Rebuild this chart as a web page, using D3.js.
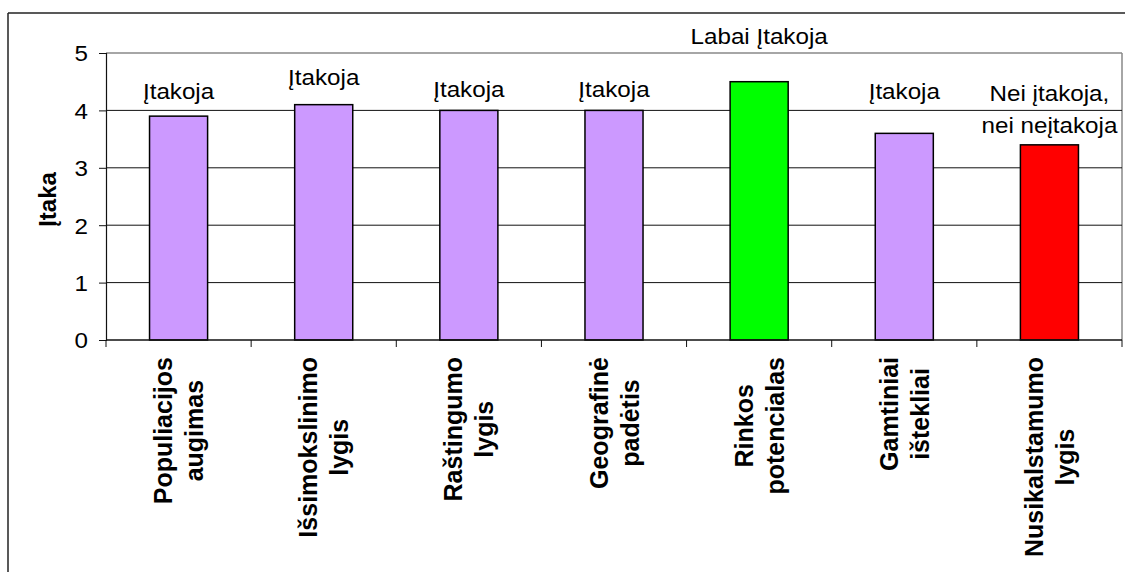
<!DOCTYPE html>
<html><head><meta charset="utf-8">
<script src="https://cdn.jsdelivr.net/npm/d3@7"></script>
<style>body{margin:0;background:#fff;} svg{display:block;}</style>
</head><body>
<svg id="c" width="1125" height="572"></svg>
<script>
// ---- data ----
const categories = [
  ["Populiacijos", "augimas"],
  ["Išsimokslinimo", "lygis"],
  ["Raštingumo", "lygis"],
  ["Geografinė", "padėtis"],
  ["Rinkos", "potencialas"],
  ["Gamtiniai", "ištekliai"],
  ["Nusikalstamumo", "lygis"]
];
const values = [3.9, 4.1, 4.0, 4.0, 4.5, 3.6, 3.4];
const valueLabels = [
  ["Įtakoja"], ["Įtakoja"], ["Įtakoja"], ["Įtakoja"],
  ["Labai Įtakoja"], ["Įtakoja"], ["Nei įtakoja,", "nei neįtakoja"]
];
const barColors = ["#cc99ff", "#cc99ff", "#cc99ff", "#cc99ff", "#00ff00", "#cc99ff", "#ff0000"];
const yTicks = [0, 1, 2, 3, 4, 5];
const yTitle = "Įtaka";

// ---- layout (not data) ----
const L = 106, R = 1122, T = 53, B = 340;
const labelBaseLevel = [4.2, 4.44, 4.23, 4.23, 5.16, 4.2, 3.6]; // baseline of last label line, in axis units
const SX = 1.1;

const svg = d3.select("#c");
const keys = categories.map(c => c.join(" "));
const x = d3.scaleBand().domain(keys).range([L, R]).paddingInner(0.6).paddingOuter(0.3);
const y = d3.scaleLinear().domain([0, 5]).range([B, T]);
const step = x.step();

// outer frame
svg.append("line").attr("x1", 8).attr("x2", 1125).attr("y1", 13).attr("y2", 13).attr("stroke", "#222").attr("stroke-width", 1.5);
svg.append("line").attr("x1", 8).attr("x2", 8).attr("y1", 13).attr("y2", 572).attr("stroke", "#222").attr("stroke-width", 1.5);

// plot border top/right (grey)
svg.append("line").attr("x1", L).attr("x2", R).attr("y1", y(5)).attr("y2", y(5)).attr("stroke", "#888").attr("stroke-width", 1.5);
svg.append("line").attr("x1", R).attr("x2", R).attr("y1", y(5)).attr("y2", B).attr("stroke", "#888").attr("stroke-width", 1.5);

// gridlines
svg.append("g").selectAll("line").data(yTicks.filter(t => t > 0 && t < 5)).join("line")
  .attr("x1", L).attr("x2", R).attr("y1", d => y(d)).attr("y2", d => y(d))
  .attr("stroke", "#111").attr("stroke-width", 1);

// y axis
const yAxis = svg.append("g").attr("transform", `translate(${L},0)`)
  .call(d3.axisLeft(y).tickValues(yTicks).tickSize(7).tickPadding(11).tickFormat(d3.format("d")));
yAxis.select(".domain").attr("stroke", "#111").attr("stroke-width", 1.2);
yAxis.selectAll(".tick line").attr("stroke", "#111");
yAxis.selectAll(".tick text").attr("font-family", "Liberation Sans, Arial, sans-serif")
  .attr("font-size", 22).attr("fill", "#000").attr("x", 0).attr("dy", "0.36em")
  .attr("transform", `translate(-18,0) scale(${SX},1)`);

// bars
svg.append("g").selectAll("rect").data(values).join("rect")
  .attr("x", (d, i) => x(keys[i])).attr("width", x.bandwidth())
  .attr("y", d => y(d)).attr("height", d => B - y(d))
  .attr("fill", (d, i) => barColors[i]).attr("stroke", "#000").attr("stroke-width", 1.5);

// x axis line and category ticks
svg.append("line").attr("x1", L).attr("x2", R).attr("y1", B).attr("y2", B).attr("stroke", "#111").attr("stroke-width", 1.5);
const bounds = d3.range(categories.length + 1).map(i => L + i * step);
svg.append("g").selectAll("line").data(bounds).join("line")
  .attr("x1", d => d).attr("x2", d => d).attr("y1", B).attr("y2", B + 7).attr("stroke", "#111").attr("stroke-width", 1);

// value labels
const lblLine = 32;
valueLabels.forEach((lines, i) => {
  const cx = x(keys[i]) + x.bandwidth() / 2;
  const base = y(labelBaseLevel[i]);
  lines.forEach((t, j) => {
    const by = base - (lines.length - 1 - j) * lblLine;
    svg.append("text").text(t)
      .attr("transform", `translate(${cx},${by}) scale(${SX},1)`)
      .attr("text-anchor", "middle")
      .attr("font-family", "Liberation Sans, Arial, sans-serif").attr("font-size", 22).attr("fill", "#000");
  });
});

// category labels (rotated)
const catFont = 25, catLine = 31, catTop = B + 17;
categories.forEach((lines, i) => {
  const cx = x(keys[i]) + x.bandwidth() / 2;
  const g = svg.append("g");
  const texts = lines.map(t => g.append("text").text(t)
    .attr("text-anchor", "middle")
    .attr("font-family", "Liberation Sans, Arial, sans-serif").attr("font-weight", "bold")
    .attr("font-size", catFont).attr("fill", "#000"));
  const maxLen = d3.max(texts, t => t.node().getComputedTextLength());
  g.attr("transform", `translate(${cx},${catTop}) rotate(-90)`);
  texts.forEach((t, j) => {
    t.attr("x", -maxLen / 2)
     .attr("y", (j - (lines.length - 1) / 2) * catLine + catFont * 0.36);
  });
});

// y title
svg.append("text").text(yTitle)
  .attr("transform", `translate(56,${(T + B) / 2 + 3}) rotate(-90)`)
  .attr("text-anchor", "middle")
  .attr("font-family", "Liberation Sans, Arial, sans-serif").attr("font-weight", "bold")
  .attr("font-size", 24).attr("fill", "#000");
</script>
</body></html>
